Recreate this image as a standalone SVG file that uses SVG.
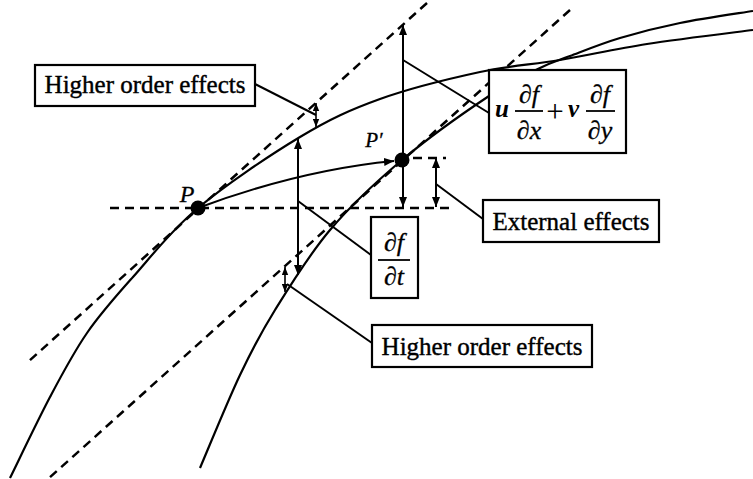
<svg xmlns="http://www.w3.org/2000/svg" width="753" height="479" viewBox="0 0 753 479">
<defs>
<marker id="ah" viewBox="0 0 10 8" refX="10" refY="4" markerWidth="10" markerHeight="8" markerUnits="userSpaceOnUse" orient="auto-start-reverse"><path d="M0,0 L10,4 L0,8 z" fill="#000"/></marker>
<marker id="ahs" viewBox="0 0 10 8" refX="10" refY="4" markerWidth="8" markerHeight="7" markerUnits="userSpaceOnUse" orient="auto-start-reverse"><path d="M0,0 L10,4 L0,8 z" fill="#000"/></marker>
<style>
.curve{fill:none;stroke:#000;stroke-width:2.2}
.dash{fill:none;stroke:#000;stroke-width:2.5;stroke-dasharray:9 6}
.lead{fill:none;stroke:#000;stroke-width:2}
.arr{fill:none;stroke:#000;stroke-width:2;marker-start:url(#ah);marker-end:url(#ah)}
.sarr{fill:none;stroke:#000;stroke-width:1.6;marker-start:url(#ahs);marker-end:url(#ahs)}
.box{fill:#fff;stroke:#000;stroke-width:2.2}
.lbl{font-family:"Liberation Serif","Times New Roman",serif;font-size:25px;fill:#000;stroke:#000;stroke-width:0.4;text-anchor:middle}
.plus{font-family:"Liberation Serif","Times New Roman",serif;font-size:31px;fill:#000;text-anchor:middle}
.math{font-family:"Liberation Serif","Times New Roman",serif;font-size:26px;font-style:italic;fill:#000;stroke:#000;stroke-width:0.3;text-anchor:middle}
.mb{font-family:"Liberation Serif","Times New Roman",serif;font-size:25px;font-style:italic;font-weight:bold;fill:#000}
.bar{stroke:#000;stroke-width:1.8}
</style>
</defs>
<rect width="753" height="479" fill="#fff"/>
<g id="curves">
<path id="curve-P" class="curve" d="M10,478 C16.7,464.5 37.2,421.2 50,397 C62.8,372.8 73.2,353 87,333 C100.8,313 114.5,297.8 133,277 C151.5,256.2 170.2,231.3 198,208 C225.8,184.7 269.7,155.2 300,137 C330.3,118.8 350,109.8 380,99 C410,88.2 450,78.5 480,72 C510,65.5 532.2,64.7 560,60 C587.8,55.3 614.8,49 647,44 C679.2,39 735.3,32.3 753,30"/>
<path id="curve-P2" class="curve" d="M200,468 C206.7,452.5 227.5,401.3 240,375 C252.5,348.7 260,334.2 275,310 C290,285.8 308.8,255 330,230 C351.2,205 375.5,182.3 402,160 C428.5,137.7 466,111.3 489,96 C512,80.7 526.5,74.7 540,68 C553.5,61.3 556.7,61 570,56 C583.3,51 601.7,43.5 620,38 C638.3,32.5 657.8,27.5 680,23 C702.2,18.5 740.8,13 753,11"/>
<line id="tangent-P" class="dash" x1="427" y1="3" x2="29" y2="361"/>
<line id="tangent-P2" class="dash" x1="570" y1="10" x2="48" y2="479"/>
<line id="horizontal" class="dash" x1="110" y1="208" x2="453" y2="208"/>
<line id="short-dash" class="dash" x1="413" y1="158" x2="446" y2="158"/>
</g>
<g id="connectors">
<path id="p-to-p2" class="lead" d="M198,208 Q300,170 394,161" marker-end="url(#ah)"/>
<line id="arrow-advect" class="arr" x1="403" y1="25" x2="403" y2="207"/>
<line id="arrow-dfdt" class="arr" x1="298" y1="139" x2="298" y2="275"/>
<line id="arrow-ext" class="arr" x1="436" y1="158" x2="436" y2="207"/>
<line id="arrow-hoe1" class="sarr" x1="316" y1="103" x2="316" y2="127"/>
<line id="arrow-hoe2" class="sarr" x1="285" y1="267" x2="285" y2="292"/>
<line class="lead" x1="255" y1="84" x2="316" y2="115"/>
<line class="lead" x1="403" y1="60" x2="489" y2="113"/>
<line class="lead" x1="298" y1="201" x2="371" y2="255"/>
<line class="lead" x1="436" y1="184" x2="483" y2="219"/>
<line class="lead" x1="287" y1="284" x2="372" y2="343"/>
</g>
<g id="point-P">
<circle cx="198" cy="208" r="7.5" fill="#000"/>
<text x="187" y="202" class="math" style="font-size:24px">P</text>
</g>
<g id="point-P2">
<circle cx="402" cy="160" r="7.5" fill="#000"/>
<text x="374" y="147" class="math" style="font-size:21px">P′</text>
</g>
<g id="node-hoe-top">
<rect class="box" x="35" y="65" width="220" height="41"/>
<text class="lbl" x="145" y="93">Higher order effects</text>
</g>
<g id="node-advection">
<rect class="box" x="489" y="70" width="137" height="83"/>
<text class="mb" x="495" y="117">u</text>
<text class="math" x="529" y="103">∂f</text>
<line class="bar" x1="515" y1="111" x2="543" y2="111"/>
<text class="math" x="529" y="139">∂x</text>
<text class="plus" x="555" y="122">+</text>
<text class="mb" x="568" y="117">v</text>
<text class="math" x="600" y="103">∂f</text>
<line class="bar" x1="586" y1="111" x2="615" y2="111"/>
<text class="math" x="600" y="139">∂y</text>
</g>
<g id="node-dfdt">
<rect class="box" x="371" y="217" width="47" height="81"/>
<text class="math" x="394" y="251">∂f</text>
<line class="bar" x1="378" y1="260" x2="410" y2="260"/>
<text class="math" x="394" y="285">∂t</text>
</g>
<g id="node-external">
<rect class="box" x="483" y="200" width="176" height="42"/>
<text class="lbl" x="571" y="230">External effects</text>
</g>
<g id="node-hoe-bottom">
<rect class="box" x="372" y="325" width="220" height="42"/>
<text class="lbl" x="482" y="355">Higher order effects</text>
</g>
</svg>
